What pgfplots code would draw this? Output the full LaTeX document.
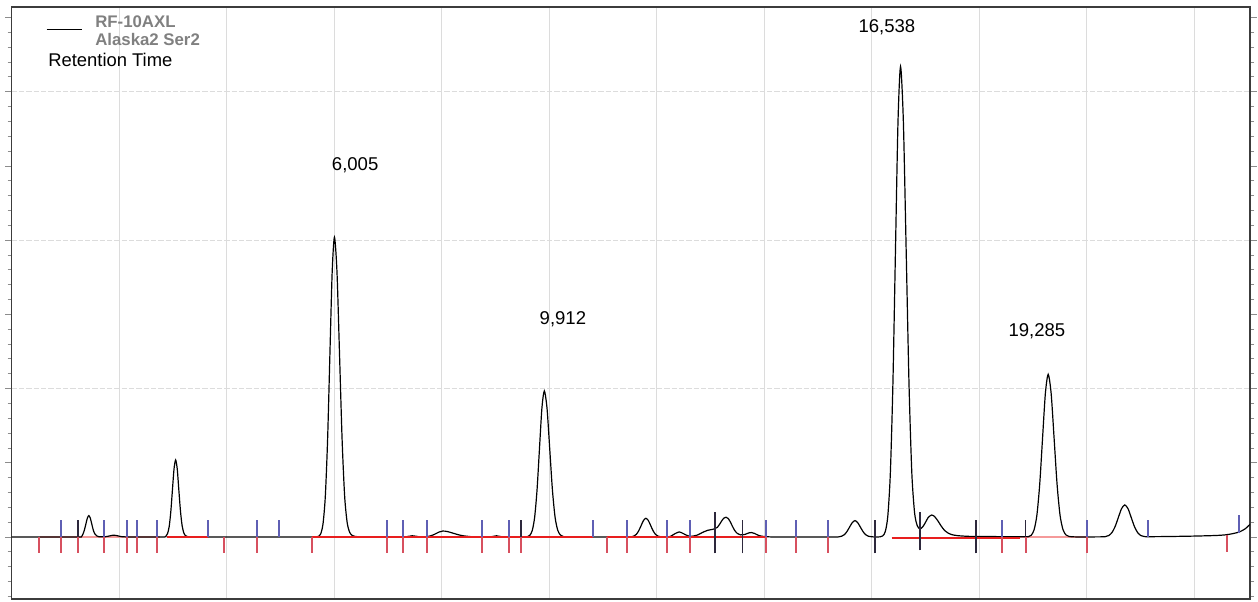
\documentclass[border=0pt]{standalone}
\usepackage{pgfplots}
\pgfplotsset{compat=1.18}
\usepackage{fontspec}
\setmainfont{Liberation Sans}
\definecolor{tickblue}{RGB}{95,95,180}
\definecolor{tickred}{RGB}{215,80,95}
\definecolor{basered}{RGB}{232,30,30}
\definecolor{gridgray}{RGB}{220,220,220}
\definecolor{framegray}{RGB}{60,60,60}
\definecolor{tickdark}{RGB}{45,40,60}
\begin{document}
\begin{tikzpicture}
\begin{axis}[
  scale only axis,
  width=928.7pt, height=444pt,
  xmin=0, xmax=23.04, ymin=-0.418, ymax=3.571,
  axis line style={framegray, line width=1.1pt},
  xtick={2,4,...,22}, xticklabels={}, xmajorgrids,
  x tick style={draw=none},
  major grid style={gridgray, line width=0.8pt},
  ytick={-0.5,0,0.5,...,4}, yticklabels={},
  minor y tick num=4,
  ytick pos=both, tick align=outside,
  y tick style={black!45, line width=0.6pt},
  major tick length=5pt, minor tick length=3pt,
  extra y ticks={1,2,3}, extra y tick labels={},
  extra y tick style={grid=major, major grid style={gridgray, line width=0.8pt, dash pattern=on 4pt off 1.5pt}, tick style={draw=none}},
  clip=true,
]
% faint integration baselines
\addplot[basered!45, line width=1pt] coordinates {(0.53,0)(2.76,0)};
\addplot[basered!45, line width=1pt] coordinates {(18.76,0)(20.0,0)};
% chromatogram
\addplot[black, line width=0.9pt, smooth, tension=0.45] coordinates {
(0,0) (0.5,0) (1.0,0) (1.27,0) (1.30,0.002) (1.325,0.019) (1.3525,0.047) (1.38,0.087) (1.4075,0.127) (1.435,0.144) (1.4625,0.127) (1.49,0.087) (1.5175,0.047) (1.545,0.022) (1.58,0.008) (1.62,0.002) (1.75,0.002) (1.9,0.012) (2.05,0.002) (2.2,0) (2.5,0) (2.84,0) (2.87,0.006) (2.90,0.023) (2.93,0.070) (2.96,0.169) (2.99,0.315) (3.02,0.458) (3.05,0.519) (3.08,0.458) (3.11,0.315) (3.14,0.175) (3.17,0.078) (3.20,0.030) (3.23,0.010) (3.27,0.003) (3.32,0) (4,0) (5,0) (5.62,0) (5.665,0.001) (5.7075,0.004) (5.75,0.022) (5.7925,0.089) (5.835,0.273) (5.8775,0.656) (5.92,1.225) (5.9625,1.783) (6.005,2.02) (6.0525,1.783) (6.10,1.225) (6.1475,0.656) (6.195,0.273) (6.2425,0.095) (6.29,0.030) (6.3375,0.010) (6.385,0.004) (6.45,0.001) (6.6,0) (7.2,0) (7.32,0) (7.45,0.008) (7.6,0.001) (7.75,0.004) (7.85,0.015) (7.95,0.033) (8.02,0.04) (8.1,0.037) (8.2,0.027) (8.3,0.016) (8.4,0.008) (8.55,0.002) (8.7,0) (8.9,0) (9.02,0.008) (9.15,0) (9.5,0) (9.55,0) (9.595,0.002) (9.64,0.011) (9.685,0.043) (9.73,0.133) (9.775,0.320) (9.82,0.597) (9.865,0.868) (9.91,0.984) (9.96,0.868) (10.01,0.597) (10.06,0.320) (10.11,0.133) (10.16,0.045) (10.21,0.013) (10.26,0.004) (10.32,0) (11,0) (11.48,0) (11.53,0.001) (11.575,0.006) (11.62,0.017) (11.665,0.041) (11.71,0.076) (11.755,0.111) (11.8,0.126) (11.845,0.111) (11.89,0.076) (11.935,0.041) (11.98,0.017) (12.025,0.006) (12.07,0.002) (12.15,0.001) (12.25,0.003) (12.33,0.02) (12.42,0.034) (12.5,0.022) (12.58,0.008) (12.65,0.005) (12.75,0.012) (12.85,0.03) (12.95,0.045) (13.05,0.052) (13.13,0.065) (13.17,0.085) (13.21,0.108) (13.25,0.127) (13.29,0.133) (13.33,0.125) (13.37,0.102) (13.41,0.072) (13.45,0.045) (13.5,0.024) (13.56,0.014) (13.65,0.018) (13.71,0.027) (13.76,0.03) (13.82,0.024) (13.9,0.01) (14.0,0.003) (14.2,0) (15,0) (15.34,0) (15.39,0.001) (15.44,0.005) (15.49,0.015) (15.54,0.036) (15.59,0.067) (15.64,0.097) (15.69,0.11) (15.74,0.097) (15.79,0.067) (15.84,0.036) (15.89,0.015) (15.94,0.005) (15.99,0.002) (16.06,0) (16.158,0.001) (16.2055,0.007) (16.253,0.035) (16.3005,0.139) (16.348,0.429) (16.3955,1.029) (16.443,1.923) (16.4905,2.798) (16.538,3.17) (16.5905,2.798) (16.643,1.923) (16.6955,1.029) (16.748,0.429) (16.80,0.16) (16.85,0.075) (16.90,0.055) (16.95,0.068) (17.0,0.097) (17.05,0.13) (17.115,0.148) (17.17,0.138) (17.23,0.11) (17.29,0.076) (17.35,0.047) (17.42,0.027) (17.5,0.015) (17.6,0.009) (17.75,0.005) (17.95,0.003) (18.2,0.003) (18.45,0.002) (18.8,0.001) (18.88,0.001) (18.9175,0.002) (18.97,0.012) (19.0225,0.048) (19.075,0.148) (19.1275,0.356) (19.18,0.665) (19.2325,0.967) (19.285,1.096) (19.34,0.967) (19.395,0.665) (19.45,0.356) (19.505,0.148) (19.56,0.05) (19.615,0.014) (19.67,0.004) (19.75,0.001) (19.9,0) (20.29,0.001) (20.35,0.0024) (20.41,0.0095) (20.47,0.029) (20.53,0.070) (20.59,0.131) (20.65,0.191) (20.71,0.216) (20.77,0.191) (20.83,0.131) (20.89,0.070) (20.95,0.029) (21.01,0.0095) (21.07,0.003) (21.15,0.002) (21.5,0.003) (22.0,0.006) (22.4,0.01) (22.6,0.015) (22.75,0.025) (22.85,0.035) (22.95,0.055) (23.04,0.085)
};
% strong red baselines
\addplot[basered, line width=2pt, unbounded coords=jump] coordinates {
(2.89,0)(3.65,0)(3.65,nan)
(5.59,0)(10.81,0)(10.81,nan)
(11.08,0)(14.03,0)(14.03,nan)
(16.37,-0.008)(18.76,-0.008)
};
% integration marks: up (blue)
\addplot[tickblue, line width=1.35pt, unbounded coords=jump] coordinates {
(0.917,0)(0.917,0.115)(0.917,nan)
(1.723,0)(1.723,0.115)(1.723,nan)
(2.151,0)(2.151,0.115)(2.151,nan)
(2.326,0)(2.326,0.115)(2.326,nan)
(2.698,0)(2.698,0.115)(2.698,nan)
(3.658,0)(3.658,0.115)(3.658,nan)
(4.569,0)(4.569,0.115)(4.569,nan)
(4.979,0)(4.979,0.115)(4.979,nan)
(6.977,0)(6.977,0.115)(6.977,nan)
(7.274,0)(7.274,0.115)(7.274,nan)
(7.721,0)(7.721,0.115)(7.721,nan)
(8.750,0)(8.750,0.115)(8.750,nan)
(9.247,0)(9.247,0.115)(9.247,nan)
(10.809,0)(10.809,0.115)(10.809,nan)
(11.453,0)(11.453,0.115)(11.453,nan)
(12.186,0)(12.186,0.115)(12.186,nan)
(12.620,0)(12.620,0.115)(12.620,nan)
(14.028,0)(14.028,0.115)(14.028,nan)
(14.592,0)(14.592,0.115)(14.592,nan)
(15.193,0)(15.193,0.115)(15.193,nan)
(18.430,0)(18.430,0.115)(18.430,nan)
(20.0,0)(20.0,0.115)(20.0,nan)
(21.146,0)(21.146,0.115)(21.146,nan)
(22.839,0.03)(22.839,0.15)
};
% integration marks: down (red)
\addplot[tickred, line width=1.35pt, unbounded coords=jump] coordinates {
(0.514,0)(0.514,-0.11)(0.514,nan)
(0.917,0)(0.917,-0.11)(0.917,nan)
(1.239,0)(1.239,-0.11)(1.239,nan)
(1.723,0)(1.723,-0.11)(1.723,nan)
(2.151,0)(2.151,-0.11)(2.151,nan)
(2.326,0)(2.326,-0.11)(2.326,nan)
(2.698,0)(2.698,-0.11)(2.698,nan)
(3.950,0)(3.950,-0.11)(3.950,nan)
(4.569,0)(4.569,-0.11)(4.569,nan)
(5.587,0)(5.587,-0.11)(5.587,nan)
(6.977,0)(6.977,-0.11)(6.977,nan)
(7.274,0)(7.274,-0.11)(7.274,nan)
(7.721,0)(7.721,-0.11)(7.721,nan)
(8.750,0)(8.750,-0.11)(8.750,nan)
(9.247,0)(9.247,-0.11)(9.247,nan)
(9.481,0)(9.481,-0.11)(9.481,nan)
(11.081,0)(11.081,-0.11)(11.081,nan)
(11.453,0)(11.453,-0.11)(11.453,nan)
(12.186,0)(12.186,-0.11)(12.186,nan)
(12.620,0)(12.620,-0.11)(12.620,nan)
(14.028,0)(14.028,-0.11)(14.028,nan)
(14.592,0)(14.592,-0.11)(14.592,nan)
(15.193,0)(15.193,-0.11)(15.193,nan)
(18.430,0)(18.430,-0.11)(18.430,nan)
(18.865,0)(18.865,-0.11)(18.865,nan)
(20.0,0)(20.0,-0.11)(20.0,nan)
(22.605,0.01)(22.605,-0.1)
};
% integration marks: dark (overlapping)
\addplot[tickdark, line width=1.2pt, unbounded coords=jump] coordinates {
(1.239,0)(1.239,0.115)(1.239,nan)
(9.481,0)(9.481,0.115)(9.481,nan)
(13.085,-0.11)(13.085,0.165)(13.085,nan)
(13.600,-0.11)(13.600,0.115)(13.600,nan)
(16.061,-0.11)(16.061,0.115)(16.061,nan)
(16.898,-0.09)(16.898,0.17)(16.898,nan)
(17.940,-0.11)(17.940,0.115)(17.940,nan)
(18.865,0)(18.865,0.115)
};
% legend line
\addplot[black, line width=0.8pt] coordinates {(0.651,3.421)(1.302,3.421)};
% legend texts
\node[anchor=west, inner sep=0pt, text=black!50, font=\fontsize{12.6}{14}\selectfont\bfseries] at (axis cs:1.55,3.472) {RF-10AXL};
\node[anchor=west, inner sep=0pt, text=black!50, font=\fontsize{12.6}{14}\selectfont\bfseries] at (axis cs:1.55,3.349) {Alaska2 Ser2};
\node[anchor=west, inner sep=0pt, font=\fontsize{13.8}{16}\selectfont] at (axis cs:0.676,3.214) {Retention Time};
% peak labels
\node[inner sep=0pt, font=\fontsize{13.9}{16}\selectfont] at (axis cs:6.39,2.507) {6,005};
\node[inner sep=0pt, font=\fontsize{13.9}{16}\selectfont] at (axis cs:10.256,1.469) {9,912};
\node[inner sep=0pt, font=\fontsize{13.9}{16}\selectfont] at (axis cs:16.285,3.437) {16,538};
\node[inner sep=0pt, font=\fontsize{13.9}{16}\selectfont] at (axis cs:19.075,1.388) {19,285};
\end{axis}
\pgfresetboundingbox
\path[use as bounding box] ([shift={(-8.78pt,-1.5pt)}]current axis.south west) rectangle ([shift={(6pt,5.25pt)}]current axis.north east);
\end{tikzpicture}
\end{document}
